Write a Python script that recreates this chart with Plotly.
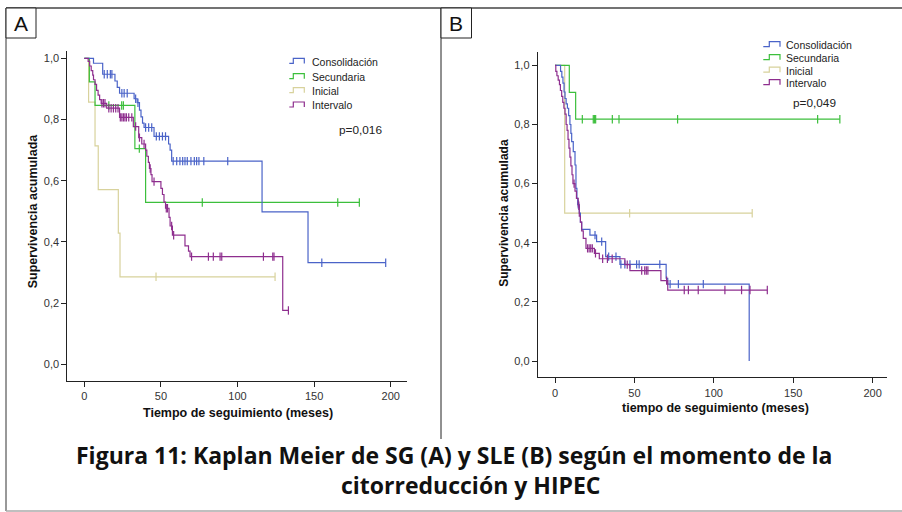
import plotly.graph_objects as go

W, H = 902, 512

# ---------------- DATA ----------------
# Panel A: Supervivencia global (SG)
A_cons_t = [0, 6, 12, 20, 21.5, 23, 32.5, 34.5, 36, 37, 38, 39, 45.5, 55, 56, 57, 116, 146]
A_cons_s = [1.0, 0.984, 0.948, 0.926, 0.905, 0.886, 0.868, 0.855, 0.831, 0.809, 0.788, 0.774, 0.745, 0.72, 0.70, 0.664, 0.498, 0.332]
A_cons_c = [13, 15, 17, 18, 24.5, 26, 28, 33.5, 35, 40, 42, 44, 47, 49, 51, 53,
            58, 60.3, 62.4, 64.2, 65.7, 67.2, 69.6, 71.8, 73.3, 74.8, 78, 93.6, 155, 196.7]
A_cons_end = 196.7

A_sec_t = [0, 3.3, 7, 33, 40]
A_sec_s = [1.0, 0.923, 0.846, 0.705, 0.529]
A_sec_c = [16, 24.4, 25.5, 35.9, 77, 165.4, 179.5]
A_sec_end = 179.5

A_ini_t = [0, 2.8, 7, 9.1, 22.2, 23.3]
A_ini_s = [1.0, 0.857, 0.714, 0.571, 0.429, 0.286]
A_ini_c = [46.8, 124.5]
A_ini_end = 124.5

A_int_t = [0, 2.5, 3.5, 4.5, 5.5, 6, 7, 8, 9, 10, 11, 14.6, 23, 32, 35.5, 37.5, 40, 40.8,
           41.8, 42.5, 43.5, 44.2, 50, 51, 52, 53, 55.3, 56, 57.5, 65.7, 68, 69, 129.5]
A_int_s = [1.0, 0.99, 0.975, 0.96, 0.945, 0.93, 0.915, 0.895, 0.88, 0.865, 0.853, 0.837, 0.807,
           0.777, 0.741, 0.72, 0.70, 0.68, 0.66, 0.64, 0.62, 0.597, 0.575, 0.555, 0.53, 0.51,
           0.48, 0.452, 0.422, 0.387, 0.37, 0.352, 0.176]
A_int_c = [11.5, 12.5, 13.5, 16, 17.5, 19, 20.5, 22, 23.5, 24.5, 25.5, 26.5, 27.5, 29, 31, 33.5,
           36, 39, 43, 45.5, 53.5, 54.3, 57, 58.3, 70, 81, 84.2, 88.6, 89.7, 116.9, 123, 123.8, 133.2]
A_int_end = 133.2

# Panel B: Supervivencia libre de enfermedad (SLE)
B_cons_t = [0, 3.5, 4.3, 5, 5.7, 6.3, 7, 7.8, 8.6, 9.4, 10, 10.5, 11.5, 12.6, 13.2, 13.8, 14.3,
            15.3, 16, 16.8, 22, 26.2, 31.9, 40.9, 70, 71, 122.3]
B_cons_s = [1.0, 0.98, 0.96, 0.94, 0.91, 0.888, 0.87, 0.855, 0.83, 0.80, 0.77, 0.742, 0.708,
            0.663, 0.584, 0.55, 0.53, 0.50, 0.47, 0.445, 0.426, 0.404, 0.353, 0.327, 0.28, 0.26, 0.0]
B_cons_c = [14.6, 25.2, 29.4, 33.8, 38.4, 41.5, 44, 47.2, 51.4, 53, 66, 72.5, 77.7, 93.4]
B_cons_end = 122.3

B_sec_t = [0, 9, 13]
B_sec_s = [1.0, 0.909, 0.818]
B_sec_c = [17.2, 24.1, 24.8, 25.6, 36.1, 40.3, 77.2, 165.4, 179.4]
B_sec_end = 179.4

B_ini_t = [0, 6.1]
B_ini_s = [1.0, 0.5]
B_ini_c = [47, 124.2]
B_ini_end = 124.2

B_int_t = [0, 0.5, 1.2, 2, 2.8, 3.4, 4.2, 4.9, 5.6, 6.3, 7, 7.6, 8.2, 8.8, 9.4, 10, 10.7, 11.3,
           12.6, 13.5, 14.6, 15.3, 16, 16.8, 17.8, 19.5, 24.8, 27.9, 44, 47.2, 66.7, 71]
B_int_s = [1.0, 0.98, 0.965, 0.95, 0.935, 0.915, 0.895, 0.875, 0.855, 0.835, 0.80, 0.78, 0.75,
           0.72, 0.69, 0.66, 0.63, 0.60, 0.575, 0.55, 0.525, 0.49, 0.47, 0.44, 0.415, 0.381,
           0.364, 0.346, 0.326, 0.306, 0.272, 0.240]
B_int_c = [12, 15, 20.5, 21.5, 22.5, 23.5, 25.5, 30, 33, 36, 45.5, 54.6, 56.5, 57.5, 58.5, 70.3,
           81.4, 84, 90.2, 107, 117.5, 122.8, 133.7]
B_int_end = 133.7

series_names = ["Consolidación", "Secundaria", "Inicial", "Intervalo"]
series_colors = ["#4a63c8", "#3cbf3c", "#d8d29c", "#8e2e8e"]

x_ticks = [0, 50, 100, 150, 200]
x_ticktext = ["0", "50", "100", "150", "200"]
y_ticks = [0.0, 0.2, 0.4, 0.6, 0.8, 1.0]
y_ticktext = ["0,0", "0,2", "0,4", "0,6", "0,8", "1,0"]

pvals = ["p=0,016", "p=0,049"]

# ---------------- HELPERS ----------------
def X(px):
    return px / W


def Y(py):
    return 1 - py / H


def step_value(ts, ss, t):
    v = ss[0]
    for ti, si in zip(ts, ss):
        if ti <= t:
            v = si
    return v


fig = go.Figure()

panels = [
    ("x", "y", [(A_cons_t, A_cons_s, A_cons_c, A_cons_end),
                (A_sec_t, A_sec_s, A_sec_c, A_sec_end),
                (A_ini_t, A_ini_s, A_ini_c, A_ini_end),
                (A_int_t, A_int_s, A_int_c, A_int_end)]),
    ("x2", "y2", [(B_cons_t, B_cons_s, B_cons_c, B_cons_end),
                  (B_sec_t, B_sec_s, B_sec_c, B_sec_end),
                  (B_ini_t, B_ini_s, B_ini_c, B_ini_end),
                  (B_int_t, B_int_s, B_int_c, B_int_end)]),
]

# draw order: Inicial, Secundaria, Consolidación, Intervalo (purple on top)
order = [2, 1, 0, 3]
for xa, ya, curves in panels:
    for i in order:
        ts, ss, cs, end = curves[i]
        xs = list(ts)
        ys = list(ss)
        if end > xs[-1]:
            xs.append(end)
            ys.append(ss[-1])
        fig.add_trace(go.Scatter(
            x=xs, y=ys, mode="lines", line=dict(shape="hv", color=series_colors[i], width=1.2),
            xaxis=xa, yaxis=ya, showlegend=False, hoverinfo="skip"))
        fig.add_trace(go.Scatter(
            x=cs, y=[step_value(ts, ss, c) for c in cs], mode="markers",
            marker=dict(symbol="line-ns-open", size=6, color=series_colors[i],
                        line=dict(color=series_colors[i], width=1.2)),
            xaxis=xa, yaxis=ya, showlegend=False, hoverinfo="skip"))

tickfont = dict(family="Liberation Sans Narrow, Liberation Sans, Arial", size=11, color="#333333")
axis_common = dict(showline=True, linecolor="#222222", linewidth=1, ticks="outside", ticklen=5,
                   tickcolor="#222222", tickwidth=1, showgrid=False, zeroline=False,
                   tickfont=tickfont, fixedrange=True)

fig.update_layout(
    width=W, height=H, autosize=False,
    margin=dict(l=0, r=0, t=0, b=0),
    paper_bgcolor="white", plot_bgcolor="white",
    xaxis=dict(domain=[X(67.3), X(407)], range=[-11.1, 210.6], anchor="y",
               tickvals=x_ticks, ticktext=x_ticktext, **axis_common),
    yaxis=dict(domain=[Y(381), Y(50.7)], range=[-0.0546, 1.025], anchor="x",
               tickvals=y_ticks, ticktext=y_ticktext, **axis_common),
    xaxis2=dict(domain=[X(537.7), X(886.7)], range=[-10.9, 208.9], anchor="y2",
                tickvals=x_ticks, ticktext=x_ticktext, **axis_common),
    yaxis2=dict(domain=[Y(377.3), Y(52.3)], range=[-0.0551, 1.0443], anchor="x2",
                tickvals=y_ticks, ticktext=y_ticktext, **axis_common),
)

shapes = []
annots = []

# outer frame
shapes.append(dict(type="line", xref="paper", yref="paper", x0=X(6), x1=X(902), y0=Y(8), y1=Y(8),
                   line=dict(color="#444444", width=1.5)))
shapes.append(dict(type="line", xref="paper", yref="paper", x0=X(6), x1=X(6), y0=Y(8), y1=Y(511),
                   line=dict(color="#333333", width=1)))
shapes.append(dict(type="line", xref="paper", yref="paper", x0=X(6), x1=X(902), y0=Y(511), y1=Y(511),
                   line=dict(color="#aaaaaa", width=1.5)))
# divider
shapes.append(dict(type="line", xref="paper", yref="paper", x0=X(441), x1=X(441), y0=Y(8), y1=Y(439),
                   line=dict(color="#222222", width=1)))
# label boxes
for (bx0, bx1, lab) in [(6, 36, "A"), (441, 471.5, "B")]:
    shapes.append(dict(type="rect", xref="paper", yref="paper", x0=X(bx0), x1=X(bx1), y0=Y(38), y1=Y(8),
                       line=dict(color="#222222", width=1), fillcolor="white"))
    annots.append(dict(x=X((bx0 + bx1) / 2), y=Y(23.5), xref="paper", yref="paper", text=lab,
                       showarrow=False, xanchor="center", yanchor="middle",
                       font=dict(family="Liberation Sans, Arial", size=21, color="#111111")))

# legends
legend_specs = [
    # glyph x0, foot end, glyph x1, text x, row centers
    (289.3, 293.3, 304.3, 310, [61.7, 77, 91, 105.3]),
    (763.3, 769.3, 780, 784.3, [45, 58, 70.5, 83]),
]
legfont = dict(family="Liberation Sans, Arial", size=10.5, color="#222222")
for gx0, gxf, gx1, tx, rows in legend_specs:
    for i, rc in enumerate(rows):
        yb, yt = rc + 1.7, rc - 3.3
        path = "M {} {} L {} {} L {} {} L {} {} L {} {}".format(
            X(gx0), Y(yb), X(gxf), Y(yb), X(gxf), Y(yt), X(gx1), Y(yt), X(gx1), Y(yb))
        shapes.append(dict(type="path", xref="paper", yref="paper", path=path,
                           line=dict(color=series_colors[i], width=1.2)))
        annots.append(dict(x=X(tx), y=Y(rc), xref="paper", yref="paper", text=series_names[i],
                           showarrow=False, xanchor="left", yanchor="middle", font=legfont))

# p-values
for (cx, cy), p in zip([(360.5, 130), (814.5, 102.7)], pvals):
    annots.append(dict(x=X(cx), y=Y(cy), xref="paper", yref="paper", text=p, showarrow=False,
                       xanchor="center", yanchor="middle",
                       font=dict(family="Liberation Sans, Arial", size=11.8, color="#222222")))

# axis titles
titlefont = dict(family="Liberation Sans, Arial", size=12.5, color="#111111")
annots.append(dict(x=X(237.7), y=Y(413), xref="paper", yref="paper",
                   text="<b>Tiempo de seguimiento (meses)</b>", showarrow=False,
                   xanchor="center", yanchor="middle", font=titlefont))
annots.append(dict(x=X(715), y=Y(408), xref="paper", yref="paper",
                   text="<b>tiempo de seguimiento (meses)</b>", showarrow=False,
                   xanchor="center", yanchor="middle", font=titlefont))
annots.append(dict(x=X(33.3), y=Y(211), xref="paper", yref="paper",
                   text="<b>Supervivencia acumulada</b>", showarrow=False, textangle=-90,
                   xanchor="center", yanchor="middle", font=titlefont))
annots.append(dict(x=X(503.3), y=Y(212.5), xref="paper", yref="paper",
                   text="<b>Supervivencia acumulada</b>", showarrow=False, textangle=-90,
                   xanchor="center", yanchor="middle",
                   font=dict(family="Liberation Sans, Arial", size=12, color="#111111")))

# caption
capfont = dict(family="Open Sans, Noto Sans, Arial", size=23, color="#111111")
annots.append(dict(x=X(455), y=Y(455), xref="paper", yref="paper",
                   text="<b>Figura 11: Kaplan Meier de SG (A) y SLE (B) según el momento de la</b>",
                   showarrow=False, xanchor="center", yanchor="middle", font=capfont))
annots.append(dict(x=X(470), y=Y(485), xref="paper", yref="paper",
                   text="<b>citorreducción y HIPEC</b>",
                   showarrow=False, xanchor="center", yanchor="middle", font=capfont))

fig.update_layout(shapes=shapes, annotations=annots)

fig.write_html("out.html")
